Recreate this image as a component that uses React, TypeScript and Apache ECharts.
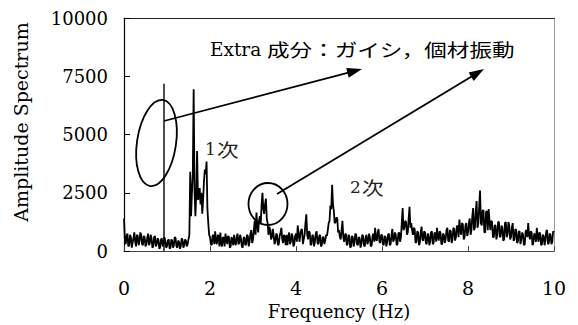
import React, { useEffect, useRef } from "react";
import * as echarts from "echarts";

// Frequency resolution of the spectrum (Hz)
const freqStep = 0.02;

// Amplitude values, one array per 1 Hz band (0.02 Hz steps)
const amp0to1 = [
  1400, 500, 300, 650, 750, 200, 250, 700, 600, 150,
  350, 550, 800, 400, 200, 700, 650, 250, 400, 800,
  700, 300, 250, 650, 600, 200, 300, 550, 750, 250,
  350, 700, 550, 150, 200, 600, 650, 200, 300, 550,
  500, 100, 150, 500, 550, 200, 300, 600, 450, 150,
];
const amp1to2 = [
  200, 450, 500, 100, 150, 500, 450, 150, 250, 600,
  550, 200, 150, 450, 400, 100, 200, 550, 500, 150,
  250, 500, 450, 200, 300, 500, 700, 3400, 1500, 2500,
  3300, 6940, 2600, 1500, 2400, 4290, 2200, 2300, 2700, 2000,
  2500, 1600, 2200, 3000, 3500, 3300, 3840, 1800, 1200, 700,
];
const amp2to3 = [
  600, 300, 250, 650, 700, 300, 850, 400, 300, 700,
  650, 200, 800, 350, 200, 600, 550, 200, 750, 500,
  300, 650, 600, 150, 200, 600, 500, 250, 700, 350,
  250, 600, 750, 300, 350, 700, 550, 200, 150, 550,
  600, 250, 300, 700, 650, 200, 400, 750, 900, 350,
];
const amp3to4 = [
  500, 900, 1300, 700, 1650, 1100, 800, 1300, 1500, 1200,
  2000, 2500, 1800, 1600, 2000, 2250, 1400, 1200, 700, 1050,
  900, 500, 600, 950, 700, 300, 400, 750, 700, 250,
  300, 650, 800, 1000, 500, 350, 700, 600, 250, 700,
  250, 600, 800, 300, 400, 750, 650, 200, 300, 650,
];
const amp4to5 = [
  750, 400, 1100, 800, 400, 700, 900, 950, 300, 500,
  700, 1200, 1580, 700, 500, 850, 800, 250, 300, 700,
  650, 200, 400, 750, 850, 350, 300, 650, 700, 200,
  250, 600, 600, 300, 450, 700, 650, 900, 1200, 1300,
  1950, 1800, 2850, 2000, 1700, 1200, 1250, 1450, 1400, 800,
];
const amp5to6 = [
  900, 600, 500, 900, 1300, 600, 400, 700, 750, 250,
  300, 700, 650, 150, 200, 650, 600, 200, 350, 750,
  700, 300, 250, 600, 550, 150, 300, 700, 650, 250,
  200, 600, 700, 300, 400, 750, 550, 200, 250, 650,
  750, 400, 1000, 500, 450, 800, 950, 400, 350, 700,
];
const amp6to7 = [
  700, 300, 250, 650, 600, 200, 400, 700, 750, 250,
  300, 650, 950, 400, 500, 800, 700, 250, 300, 750,
  800, 400, 600, 1200, 1850, 900, 1000, 1300, 1250, 700,
  800, 1400, 1900, 1000, 1200, 900, 700, 1000, 950, 350,
  400, 850, 800, 250, 350, 800, 1050, 500, 450, 850,
];
const amp7to8 = [
  800, 350, 300, 750, 700, 250, 400, 800, 850, 300,
  350, 800, 750, 400, 1000, 600, 450, 850, 800, 300,
  300, 750, 700, 350, 500, 900, 1000, 450, 400, 900,
  850, 350, 500, 1000, 950, 450, 600, 1050, 1100, 600,
  1350, 900, 700, 1200, 1150, 500, 600, 1100, 1200, 650,
];
const amp8to9 = [
  800, 1200, 1400, 700, 900, 1500, 1850, 900, 1000, 1700,
  2150, 1000, 1200, 1900, 2600, 1200, 1100, 1750, 1750, 800,
  800, 1700, 1700, 900, 1800, 1300, 900, 1300, 1250, 600,
  600, 1100, 1100, 500, 700, 1250, 1250, 600, 650, 1100,
  1000, 450, 500, 1200, 1250, 600, 700, 1250, 1100, 500,
];
const amp9to10 = [
  600, 1000, 1200, 450, 500, 950, 900, 350, 400, 850,
  850, 300, 500, 800, 700, 250, 300, 850, 900, 600,
  1200, 700, 500, 850, 800, 250, 350, 750, 700, 400,
  1000, 600, 400, 800, 750, 250, 300, 700, 650, 250,
  450, 850, 900, 300, 350, 750, 700, 300, 400, 850,
  800,
];

// The "Extra" component: a single line at 0.93 Hz
const extraSpikeFreq = 0.93;
const extraSpikeAmp = 7180;

// Axis ranges
const xMin = 0;
const xMax = 10;
const xInterval = 2;
const yMin = 0;
const yMax = 10000;
const yInterval = 2500;

// Texts
const xTitle = "Frequency (Hz)";
const yTitle = "Amplitude Spectrum";
const extraLatin = "Extra";
const extraJa = "成分：ガイシ，個材振動";
const mode1Label = ["1", "次"];
const mode2Label = ["2", "次"];

const SERIF = "DejaVu Serif";
const CJK = "Noto Sans CJK JP";

function arrow(x1: number, y1: number, x2: number, y2: number) {
  const dx = x2 - x1;
  const dy = y2 - y1;
  const len = Math.sqrt(dx * dx + dy * dy);
  const ux = dx / len;
  const uy = dy / len;
  const headLen = 15;
  const headHalf = 5;
  const bx = x2 - ux * headLen;
  const by = y2 - uy * headLen;
  const nx = -uy * headHalf;
  const ny = ux * headHalf;
  return [
    {
      type: "line",
      shape: { x1, y1, x2: bx + ux * 2, y2: by + uy * 2 },
      style: { stroke: "#000", lineWidth: 1.8 },
      silent: true,
    },
    {
      type: "polygon",
      shape: {
        points: [
          [x2, y2],
          [bx + nx, by + ny],
          [bx - nx, by - ny],
        ],
      },
      style: { fill: "#000" },
      silent: true,
    },
  ];
}

export default function App() {
  const ref = useRef<HTMLDivElement>(null);

  useEffect(() => {
    if (!ref.current) return;
    const chart = echarts.init(ref.current, undefined, { renderer: "svg" });

    const amplitude = [amp0to1, amp1to2, amp2to3, amp3to4, amp4to5, amp5to6, amp6to7, amp7to8, amp8to9, amp9to10].flat();
    const spectrum = amplitude.map((v, i) => [Number((i * freqStep).toFixed(2)), v]);
    const spike = [
      [extraSpikeFreq, 0],
      [extraSpikeFreq, extraSpikeAmp],
    ];

    chart.setOption({
      animation: false,
      backgroundColor: "#fff",
      grid: { left: 124, top: 18, right: 24, bottom: 62, show: false },
      xAxis: [
        {
          type: "value",
          min: xMin,
          max: xMax,
          interval: xInterval,
          position: "bottom",
          name: xTitle,
          nameLocation: "middle",
          nameGap: 46,
          nameTextStyle: { fontFamily: SERIF, fontSize: 18, color: "#000" },
          axisLine: { show: true, onZero: false, lineStyle: { color: "#444", width: 1 } },
          axisTick: { show: true, inside: true, length: 5, lineStyle: { color: "#444" } },
          axisLabel: {
            fontFamily: SERIF,
            fontSize: 19,
            color: "#000",
            margin: 27,
            formatter: (v: number) => String(v),
          },
          splitLine: { show: false },
        },
        {
          type: "value",
          min: xMin,
          max: xMax,
          position: "top",
          axisLine: { show: true, onZero: false, lineStyle: { color: "#222", width: 1 } },
          axisTick: { show: false },
          axisLabel: { show: false },
          splitLine: { show: false },
        },
      ],
      yAxis: [
        {
          type: "value",
          min: yMin,
          max: yMax,
          interval: yInterval,
          position: "left",
          axisLine: { show: true, onZero: false, lineStyle: { color: "#000", width: 1.2 } },
          axisTick: { show: true, inside: true, length: 6, lineStyle: { color: "#000" } },
          axisLabel: {
            fontFamily: SERIF,
            fontSize: 18,
            color: "#000",
            margin: 16,
            formatter: (v: number) => String(v),
          },
          splitLine: { show: false },
        },
        {
          type: "value",
          min: yMin,
          max: yMax,
          position: "right",
          axisLine: { show: true, onZero: false, lineStyle: { color: "#999", width: 1 } },
          axisTick: { show: false },
          axisLabel: { show: false },
          splitLine: { show: false },
        },
      ],
      series: [
        {
          type: "line",
          data: spectrum,
          showSymbol: false,
          symbol: "none",
          lineStyle: { color: "#000", width: 1.8 },
          z: 3,
        },
        {
          type: "line",
          data: spike,
          showSymbol: false,
          symbol: "none",
          lineStyle: { color: "#000", width: 1.4 },
          z: 3,
        },
      ],
      graphic: [
        {
          type: "text",
          x: 21,
          y: 122,
          rotation: Math.PI / 2,
          style: {
            text: yTitle,
            fontFamily: SERIF,
            fontSize: 19,
            fill: "#000",
            align: "center",
            verticalAlign: "middle",
          },
        },
        {
          type: "ellipse",
          x: 156.5,
          y: 143,
          rotation: -0.15,
          shape: { cx: 0, cy: 0, rx: 19.5, ry: 43.5 },
          style: { fill: "none", stroke: "#000", lineWidth: 1.8 },
          z: 10,
        },
        {
          type: "ellipse",
          shape: { cx: 268, cy: 204, rx: 19.5, ry: 21 },
          style: { fill: "none", stroke: "#000", lineWidth: 1.8 },
          z: 10,
        },
        ...arrow(164, 121, 362, 69),
        ...arrow(277, 194, 484, 69),
        {
          type: "text",
          x: 210,
          y: 49,
          style: {
            text: extraLatin,
            fontFamily: SERIF,
            fontSize: 18.5,
            fill: "#000",
            align: "left",
            verticalAlign: "middle",
          },
          z: 10,
        },
        {
          type: "text",
          x: 267,
          y: 49,
          scaleX: 1.24,
          style: {
            text: extraJa,
            fontFamily: CJK,
            fontSize: 18.2,
            fill: "#000",
            align: "left",
            verticalAlign: "middle",
          },
          z: 10,
        },
        {
          type: "text",
          x: 205,
          y: 149,
          style: {
            text: mode1Label[0],
            fontFamily: SERIF,
            fontSize: 17,
            fill: "#222",
            align: "left",
            verticalAlign: "middle",
          },
          z: 10,
        },
        {
          type: "text",
          x: 217,
          y: 149,
          scaleX: 1.2,
          style: {
            text: mode1Label[1],
            fontFamily: CJK,
            fontSize: 18,
            fill: "#222",
            align: "left",
            verticalAlign: "middle",
          },
          z: 10,
        },
        {
          type: "text",
          x: 350,
          y: 187,
          style: {
            text: mode2Label[0],
            fontFamily: SERIF,
            fontSize: 17,
            fill: "#222",
            align: "left",
            verticalAlign: "middle",
          },
          z: 10,
        },
        {
          type: "text",
          x: 362,
          y: 187,
          scaleX: 1.2,
          style: {
            text: mode2Label[1],
            fontFamily: CJK,
            fontSize: 18,
            fill: "#222",
            align: "left",
            verticalAlign: "middle",
          },
          z: 10,
        },
      ],
    });

    return () => {
      chart.dispose();
    };
  }, []);

  return (
    <div
      ref={ref}
      style={{ position: "fixed", left: 0, top: 0, width: 578, height: 325, background: "#fff" }}
    />
  );
}
